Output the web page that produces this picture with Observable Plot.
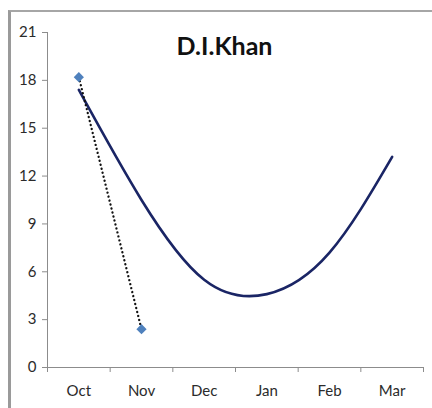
<!DOCTYPE html>
<html>
<head>
<meta charset="utf-8">
<script src="https://cdn.jsdelivr.net/npm/d3@7"></script>
<script src="https://cdn.jsdelivr.net/npm/@observablehq/plot@0.6"></script>
<style>
  html, body { margin: 0; padding: 0; background: #fff; }
  #wrap { position: relative; width: 432px; height: 408px; overflow: hidden; }
  #wrap svg { position: absolute; left: 0; top: 0; }
  #border {
    position: absolute; left: 8px; top: 10px; width: 440px; height: 420px;
    border-left: 3px solid #9a9a9a; border-top: 2px solid #a6a6a6;
    pointer-events: none;
  }
</style>
</head>
<body>
<div id="wrap"><div id="border"></div></div>
<script>
// Months along the x axis
const months = ["Oct", "Nov", "Dec", "Jan", "Feb", "Mar"];
// Smoothed seasonal curve, one value per month
const curveValues = [17.4, 10.5, 5.5, 4.6, 7.2, 13.2];
// Observed values (Oct, Nov)
const observedMonths = ["Oct", "Nov"];
const observedValues = [18.2, 2.4];
// Y axis ticks
const yTicks = [0, 3, 6, 9, 12, 15, 18, 21];
const title = "D.I.Khan";

const idx = m => months.indexOf(m);
const curve = months.map((m, i) => ({x: i, y: curveValues[i]}));
const observed = observedMonths.map((m, i) => ({x: idx(m), y: observedValues[i]}));
const boundaries = d3.range(-0.5, months.length, 1);

const font = "Lato, 'Open Sans', sans-serif";
const axisColor = "#8c8c8c";

const chart = Plot.plot({
  width: 432,
  height: 408,
  marginLeft: 47,
  marginRight: 9,
  marginTop: 32,
  marginBottom: 41,
  style: {fontFamily: font, fontSize: "15px", color: "#333", background: "transparent"},
  x: {type: "linear", domain: [-0.5, months.length - 0.5]},
  y: {domain: [0, 21]},
  marks: [
    // axis lines
    Plot.ruleY([0], {stroke: axisColor, strokeWidth: 1}),
    Plot.ruleX([-0.5], {stroke: axisColor, strokeWidth: 1}),
    // y axis ticks and labels
    Plot.axisY({ticks: yTicks, tickSize: 5, tickPadding: 6, stroke: axisColor, tickFormat: d => String(d), fill: "#2b2b2b", fontSize: 15, label: null}),
    // x tick marks between months
    Plot.axisX({ticks: boundaries, tickSize: 5, stroke: axisColor, tickFormat: () => "", label: null}),
    // month labels centred on each month
    Plot.axisX({ticks: d3.range(months.length), tickSize: 0, tickPadding: 18, tickFormat: i => months[i], fill: "#2b2b2b", fontSize: 15, label: null}),
    // smoothed curve
    Plot.line(curve, {x: "x", y: "y", curve: "natural", stroke: "#1a2565", strokeWidth: 2.6}),
    // dotted connector between observations
    Plot.line(observed, {x: "x", y: "y", stroke: "#111", strokeWidth: 2.3, strokeLinecap: "round", strokeDasharray: "0.1 4"}),
    // observations
    Plot.dot(observed, {x: "x", y: "y", symbol: "diamond2", r: 4.6, fill: "#4f81bd", stroke: "none"}),
    // title
    Plot.text([title], {frameAnchor: "top", dx: -11, dy: 14, text: d => d, fontSize: 25, fontWeight: "bold", fill: "#111", lineAnchor: "middle"})
  ]
});
document.getElementById("wrap").prepend(chart);
</script>
</body>
</html>
